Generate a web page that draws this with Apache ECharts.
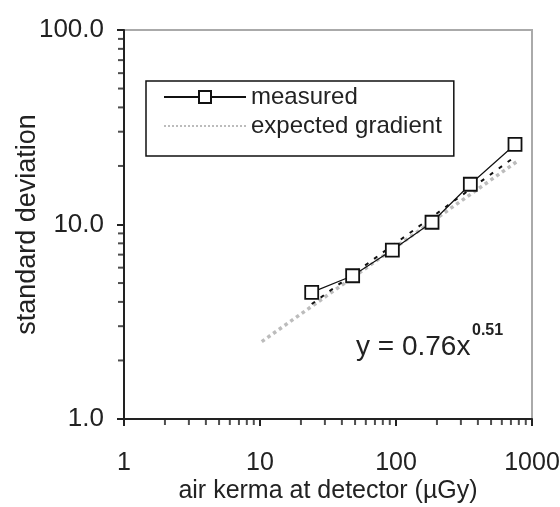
<!DOCTYPE html>
<html><head><meta charset="utf-8">
<script src="https://cdn.jsdelivr.net/npm/echarts@6/dist/echarts.min.js"></script>
<style>html,body{margin:0;padding:0;background:#fff}#c{width:560px;height:507px}</style>
</head><body><div id="c"></div>
<script>
// measured data
const airKerma = [24, 48, 94, 184, 352, 750];
const stdDev = [4.48, 5.45, 7.39, 10.27, 16.1, 25.8];
// expected gradient line (endpoints)
const expectedX = [10.3, 770];
const expectedY = [2.5, 21.0];
// power trendline y = 0.76x^0.51 (endpoints)
const trendX = [24, 750];
const trendY = [3.9, 22.3];
// minor tick positions
const xMinorTicks = [2,3,4,5,6,7,8,9,20,30,40,50,60,70,80,90,200,300,400,500,600,700,800,900];
const yMinorTicks = [2,3,4,5,6,7,8,9,20,30,40,50,60,70,80,90];
const seriesNames = ['measured', 'expected gradient'];
const xTitle = 'air kerma at detector (µGy)';
const yTitle = 'standard deviation';

const FF = '"Liberation Sans", Arial, Helvetica, sans-serif';
const TXT = '#222';
const chart = echarts.init(document.getElementById('c'));
chart.setOption({
  animation: false,
  backgroundColor: '#fff',
  textStyle: { fontFamily: FF },
  grid: { left: 124, right: 28, top: 30, bottom: 88, show: true, borderColor: '#aaa', borderWidth: 2,
          containLabel: false, outerBoundsMode: 'none' },
  legend: {
    data: [
      { name: seriesNames[0] },
      { name: seriesNames[1], itemStyle: { opacity: 0 } }
    ],
    orient: 'vertical',
    left: 146, top: 81,
    padding: [4, 12, 18, 17],
    itemGap: 5,
    itemWidth: 82, itemHeight: 15,
    borderColor: '#111', borderWidth: 1.5,
    textStyle: { fontSize: 24, color: TXT, fontFamily: FF }
  },
  xAxis: {
    type: 'log', logBase: 10, min: 1, max: 1000,
    name: xTitle, nameLocation: 'middle', nameGap: 60, nameMoveOverlap: false,
    nameTextStyle: { fontSize: 25, color: TXT, fontFamily: FF },
    axisLine: { lineStyle: { color: '#222', width: 2 } },
    axisTick: { show: true, length: 7, lineStyle: { color: '#222', width: 2 } },
    axisLabel: { fontSize: 25, color: TXT, margin: 32, fontFamily: FF, formatter: v => String(Math.round(v)) },
    splitLine: { show: false }
  },
  yAxis: {
    type: 'log', logBase: 10, min: 1, max: 100,
    name: yTitle, nameLocation: 'middle', nameGap: 83, nameMoveOverlap: false,
    nameTextStyle: { fontSize: 27, color: TXT, fontFamily: FF },
    axisLine: { lineStyle: { color: '#222', width: 2 } },
    axisTick: { show: true, length: 7, lineStyle: { color: '#222', width: 2 } },
    axisLabel: { fontSize: 26, color: TXT, margin: 20, fontFamily: FF, formatter: v => (Math.round(v * 10) / 10).toFixed(1) },
    splitLine: { show: false }
  },
  series: [
    {
      name: 'expected gradient', type: 'line', symbol: 'none',
      data: expectedX.map((x, i) => [x, expectedY[i]]),
      lineStyle: { color: '#bcbcbc', width: 3.5, type: 'dotted' },
      itemStyle: { color: '#bcbcbc' },
      z: 2
    },
    {
      name: 'trend', type: 'line', symbol: 'none',
      data: trendX.map((x, i) => [x, trendY[i]]),
      lineStyle: { color: '#111', width: 2, type: [4, 7] },
      z: 3
    },
    {
      name: 'measured', type: 'line', symbol: 'rect', symbolSize: 13,
      data: airKerma.map((x, i) => [x, stdDev[i]]),
      lineStyle: { color: '#111', width: 1.2 },
      itemStyle: { color: '#fff', borderColor: '#111', borderWidth: 1.8 },
      z: 4
    },
    {
      name: 'xminor', type: 'scatter', silent: true, clip: false,
      data: xMinorTicks.map(v => [v, 1]),
      symbol: 'rect', symbolSize: [2, 6], symbolOffset: [0, 3],
      itemStyle: { color: '#222' }, z: 5
    },
    {
      name: 'yminor', type: 'scatter', silent: true, clip: false,
      data: yMinorTicks.map(v => [1, v]),
      symbol: 'rect', symbolSize: [6, 2], symbolOffset: [-3, 0],
      itemStyle: { color: '#222' }, z: 5
    }
  ],
  graphic: [
    {
      type: 'text', left: 356, top: 333,
      style: { text: 'y = 0.76x', font: '28px ' + FF, fill: TXT }
    },
    {
      type: 'text', left: 472, top: 323,
      style: { text: '0.51', font: 'bold 16px ' + FF, fill: TXT }
    }
  ]
});
</script></body></html>
